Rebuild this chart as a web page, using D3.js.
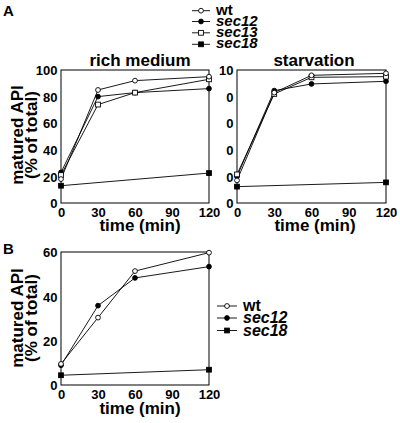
<!DOCTYPE html>
<html><head><meta charset="utf-8">
<script src="https://cdn.jsdelivr.net/npm/d3@7"></script>
<style>
html,body{margin:0;padding:0;background:#fff;}
svg text{font-family:"Liberation Sans",Arial,Helvetica,sans-serif;font-weight:bold;fill:#000;}
</style></head>
<body>
<svg id="c" width="400" height="423"></svg>
<script>
// ---- data ----
const times = [0, 30, 60, 120];
const xTicks = [0, 30, 60, 90, 120];
const yTicksA = [0, 20, 40, 60, 80, 100];
const yTickLabelsRich = ["0", "20", "40", "60", "80", "100"];
const yTickLabelsStarv = ["0", "0", "0", "0", "0", "10"]; // clipped labels as printed
const yTicksB = [0, 20, 40, 60];

const richWt    = [18, 85, 92, 95];
const richSec12 = [23, 80, 83, 86];
const richSec13 = [21, 74, 83, 93];
const richSec18 = [13, null, null, 22.5];

const starvWt    = [17, 83, 96, 97.5];
const starvSec12 = [20, 84.5, 89.5, 91.5];
const starvSec13 = [21.5, 82, 94.5, 95];
const starvSec18 = [12.3, null, null, 15.5];

const bWt    = [9.5, 30.4, 51.4, 59.7];
const bSec12 = [8.9, 35.8, 48.3, 53.4];
const bSec18 = [4.4, null, null, 6.9];

const legendA = [
  {name: "wt", italic: false, marker: "openCircle"},
  {name: "sec12", italic: true, marker: "filledCircle"},
  {name: "sec13", italic: true, marker: "openSquare"},
  {name: "sec18", italic: true, marker: "filledSquare"}
];
const legendB = [
  {name: "wt", italic: false, marker: "openCircle"},
  {name: "sec12", italic: true, marker: "filledCircle"},
  {name: "sec18", italic: true, marker: "filledSquare"}
];

// ---- drawing ----
const svg = d3.select("#c");

function drawMarker(g, type, x, y) {
  if (type === "openCircle" || type === "filledCircle") {
    g.append("circle").attr("cx", x).attr("cy", y).attr("r", 2.4)
      .attr("fill", type === "openCircle" ? "#fff" : "#000")
      .attr("stroke", "#000").attr("stroke-width", 0.9);
  } else {
    const s = 4.8;
    g.append("rect").attr("x", x - s/2).attr("y", y - s/2).attr("width", s).attr("height", s)
      .attr("fill", type === "openSquare" ? "#fff" : "#000")
      .attr("stroke", "#000").attr("stroke-width", 0.9);
  }
}

function panel(opts) {
  const x = d3.scaleLinear().domain([0, 120]).range([opts.x0, opts.x1]);
  const y = d3.scaleLinear().domain([0, opts.ymax]).range([opts.y0, opts.y1]);
  const g = svg.append("g");
  g.append("rect").attr("x", opts.x0).attr("y", opts.y1)
    .attr("width", opts.x1 - opts.x0).attr("height", opts.y0 - opts.y1)
    .attr("fill", "none").attr("stroke", "#000").attr("stroke-width", 1);
  const xa = g.append("g").attr("transform", `translate(0,${opts.y0})`)
    .call(d3.axisBottom(x).tickValues(xTicks).tickSize(0).tickPadding(0).tickFormat(d3.format("d")));
  xa.select(".domain").remove();
  xa.selectAll("text").attr("font-size", 13).attr("y", opts.xLabelY - opts.y0).attr("dy", 0);
  const ya = g.append("g").attr("transform", `translate(${opts.x0},0)`)
    .call(d3.axisLeft(y).tickValues(opts.yTicks).tickSize(0).tickPadding(3.5)
      .tickFormat((d, i) => opts.yLabels ? opts.yLabels[i] : d));
  ya.select(".domain").remove();
  ya.selectAll("text").attr("font-size", 13).attr("dy", "0.36em");
  g.append("text").attr("x", opts.xTitleX).attr("y", opts.xTitleY).attr("text-anchor", "middle")
    .attr("font-size", 17).text("time (min)");
  const line = d3.line().x(d => x(d.t)).y(d => y(d.v));
  opts.series.forEach(s => {
    const pts = times.map((t, i) => ({t, v: s.values[i]})).filter(d => d.v !== null);
    g.append("path").datum(pts).attr("d", line).attr("fill", "none")
      .attr("stroke", "#000").attr("stroke-width", 0.9);
  });
  opts.series.forEach(s => {
    times.forEach((t, i) => {
      if (s.values[i] !== null) drawMarker(g, s.marker, x(t), y(s.values[i]));
    });
  });
  return {x, y};
}

function yTitle(cx, cy) {
  const g = svg.append("g").attr("transform", `translate(${cx},${cy}) rotate(-90)`);
  g.append("text").attr("x", 0).attr("y", 0).attr("text-anchor", "middle")
    .attr("font-size", 17).text("matured API");
  g.append("text").attr("x", 0).attr("y", 14).attr("text-anchor", "middle")
    .attr("font-size", 17).text("(% of total)");
}

function legend(items, x0, x1, mx, tx, ys, fs, dy) {
  items.forEach((it, i) => {
    const yy = ys[i];
    svg.append("line").attr("x1", x0).attr("x2", x1).attr("y1", yy).attr("y2", yy)
      .attr("stroke", "#000").attr("stroke-width", 0.9);
    drawMarker(svg, it.marker, mx, yy);
    svg.append("text").attr("x", tx).attr("y", yy + dy).attr("font-size", fs)
      .attr("font-style", it.italic ? "italic" : "normal").text(it.name);
  });
}

svg.append("text").attr("x", 3).attr("y", 16).attr("font-size", 15).text("A");
svg.append("text").attr("x", 3).attr("y", 254).attr("font-size", 15).text("B");

svg.append("text").attr("x", 140).attr("y", 66).attr("text-anchor", "middle").attr("font-size", 17).text("rich medium");
svg.append("text").attr("x", 314).attr("y", 66).attr("text-anchor", "middle").attr("font-size", 17).text("starvation");

panel({x0: 61, x1: 209, y0: 203, y1: 70, ymax: 100, yTicks: yTicksA, yLabels: yTickLabelsRich,
  xLabelY: 217, xTitleX: 140, xTitleY: 231,
  series: [
    {values: richSec18, marker: "filledSquare"},
    {values: richSec12, marker: "filledCircle"},
    {values: richSec13, marker: "openSquare"},
    {values: richWt, marker: "openCircle"}
  ]});
panel({x0: 237, x1: 386, y0: 203, y1: 70, ymax: 100, yTicks: yTicksA, yLabels: yTickLabelsStarv,
  xLabelY: 217, xTitleX: 315, xTitleY: 231,
  series: [
    {values: starvSec18, marker: "filledSquare"},
    {values: starvSec12, marker: "filledCircle"},
    {values: starvSec13, marker: "openSquare"},
    {values: starvWt, marker: "openCircle"}
  ]});
panel({x0: 61, x1: 209, y0: 385, y1: 252, ymax: 60, yTicks: yTicksB, yLabels: null,
  xLabelY: 399, xTitleX: 140, xTitleY: 414,
  series: [
    {values: bSec18, marker: "filledSquare"},
    {values: bSec12, marker: "filledCircle"},
    {values: bWt, marker: "openCircle"}
  ]});

yTitle(23, 135);
yTitle(23, 318);

legend(legendA, 192, 210, 201, 216, [10.7, 21.5, 32.8, 44.3], 15, 4);
legend(legendB, 217, 237, 227, 243, [306, 318, 330.5], 16, 5);
</script>
</body></html>
